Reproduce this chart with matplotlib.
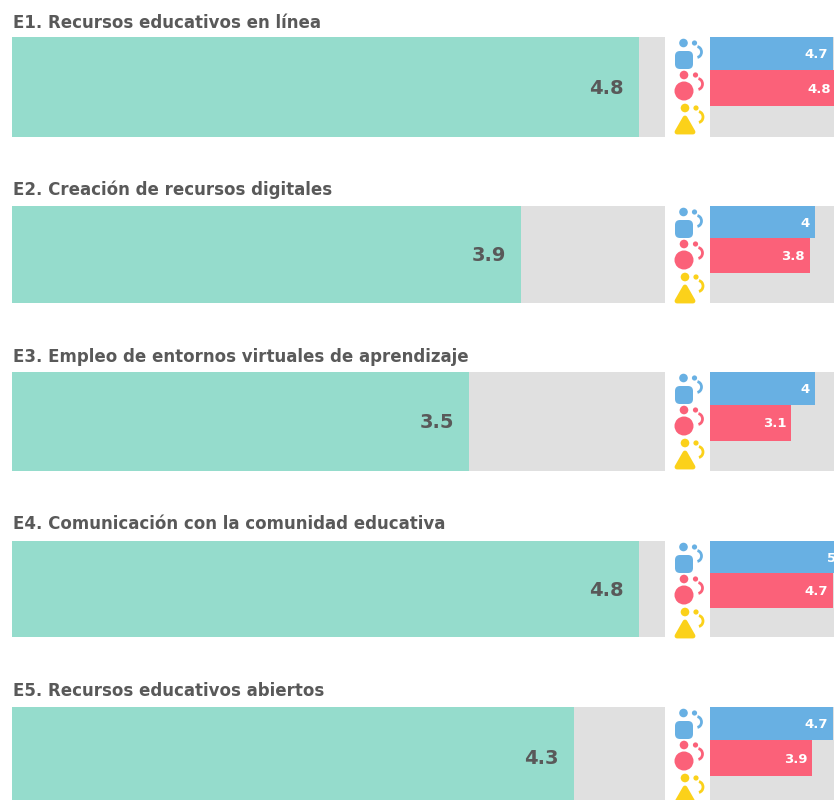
import matplotlib
matplotlib.use("Agg")
import matplotlib.pyplot as plt
from matplotlib.patches import Circle, FancyBboxPatch, Polygon, Arc

titles = ["E1. Recursos educativos en línea", "E2. Creación de recursos digitales",
          "E3. Empleo de entornos virtuales de aprendizaje",
          "E4. Comunicación con la comunidad educativa", "E5. Recursos educativos abiertos"]
total = [4.8, 3.9, 3.5, 4.8, 4.3]
hombres = [4.7, 4, 4, 5, 4.7]
mujeres = [4.8, 3.8, 3.1, 4.7, 3.9]

tops = [37, 206, 372, 541, 707]
bottoms = [137, 303, 471, 637, 807]
title_y = [23, 190, 357, 524, 691]
W, H = 834, 800
GREEN, GREY, BLUE, RED, YELLOW = "#95dccc", "#e0e0e0", "#68b0e3", "#fb6179", "#fbd11a"
TXT = "#595959"
plt.rcParams["font.family"] = ["DejaVu Sans"]

fig = plt.figure(figsize=(W / 100, H / 100), dpi=100)
fig.patch.set_facecolor("white")


def make_ax(x0, x1, y0, y1):
    ax = fig.add_axes([x0 / W, 1 - y1 / H, (x1 - x0) / W, (y1 - y0) / H])
    ax.set_axis_off()
    ax.add_patch(plt.Rectangle((0, 0), 1, 1, transform=ax.transAxes, color=GREY, zorder=0))
    ax.set_xlim(0, 5)
    return ax


# overlay for titles and the small people icons
ov = fig.add_axes([0, 0, 1, 1], zorder=5)
ov.set_xlim(0, W)
ov.set_ylim(H, 0)
ov.set_axis_off()


def extras(cx, cy, c):
    ov.add_patch(Circle((cx + 11, cy), 2.6, color=c, lw=0))
    ov.add_patch(Arc((cx + 13, cy + 9), 10, 11, theta1=-80, theta2=80, color=c, lw=2))


def icons(top):
    c = BLUE
    ov.add_patch(Circle((683.5, top + 6), 4.3, color=c, lw=0))
    ov.add_patch(FancyBboxPatch((678, top + 17), 12, 12, boxstyle="round,pad=3,rounding_size=5", color=c, lw=0))
    extras(683.5, top + 6, c)
    c = RED
    ov.add_patch(Circle((684, top + 38), 4.3, color=c, lw=0))
    ov.add_patch(Circle((684, top + 54), 9.5, color=c, lw=0))
    extras(684.5, top + 38, c)
    c = YELLOW
    ov.add_patch(Circle((685, top + 71), 4.3, color=c, lw=0))
    ov.add_patch(Polygon([[685, top + 81], [693, top + 95], [677, top + 95]], closed=True, fc=c, ec=c, lw=3.5, joinstyle="round"))
    extras(685, top + 71, c)


for i in range(5):
    ov.text(13, title_y[i], titles[i], fontsize=12, fontweight="bold", color=TXT, va="center", ha="left")
    icons(tops[i])

    ax = make_ax(12, 665, tops[i], bottoms[i])
    ax.set_ylim(0, 1)
    ax.barh([0.5], [total[i]], height=1, color=GREEN)
    ax.annotate(str(total[i]), (total[i], 0.5), xytext=(-15, -1), textcoords="offset pixels", ha="right",
                va="center", fontsize=14, fontweight="bold", color=TXT)

    # same scale, runs a bit past the right edge of the figure
    ax2 = make_ax(710, 841, tops[i], bottoms[i])
    ax2.set_ylim(3, 0)
    ax2.barh([0.5, 1.54], [hombres[i], mujeres[i]], height=[1, 1.08], color=[BLUE, RED])
    for y, v in zip([0.5, 1.54], [hombres[i], mujeres[i]]):
        ax2.annotate(str(v), (v, y), xytext=(-5, -1), textcoords="offset pixels", ha="right", va="center",
                     fontsize=9.5, fontweight="bold", color="white", clip_on=True)

fig.savefig("out.png", dpi=100)
